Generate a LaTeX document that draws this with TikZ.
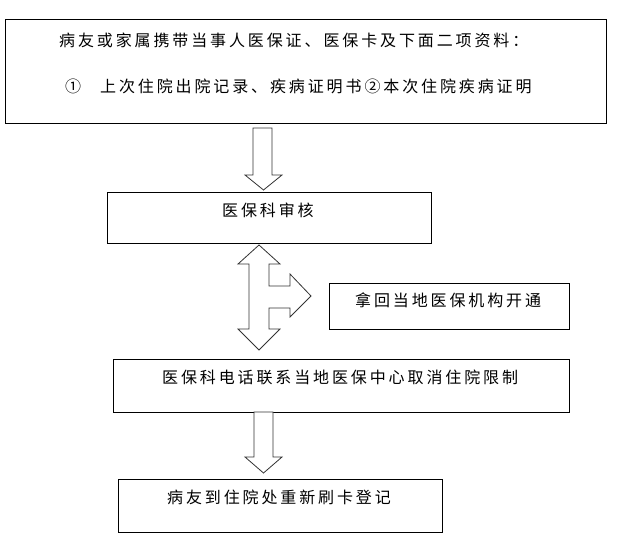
\documentclass[tikz,border=0pt]{standalone}
\usepackage{fontspec}
\newfontfamily\cjk[LetterSpace=18]{Noto Sans CJK SC}
\begin{document}
\begin{tikzpicture}[x=1pt,y=-1pt,
  box/.style={draw=black,line width=0.9pt,inner sep=0pt},
  txt/.style={font=\cjk\fontsize{16pt}{19pt}\selectfont,inner sep=0pt,anchor=west},
  blk/.style={draw=black!80,line width=0.8pt,fill=white,line join=miter}]
\useasboundingbox (0,0) rectangle (617,543);
% boxes
\node[box,minimum width=601pt,minimum height=104pt] (b1) at (305.5,71) {};
\node[box,minimum width=324pt,minimum height=51pt] (b2) at (269,217.5) {};
\node[box,minimum width=240pt,minimum height=46pt] (b3) at (449,306) {};
\node[box,minimum width=456pt,minimum height=53pt] (b4) at (341,385.5) {};
\node[box,minimum width=324pt,minimum height=53pt] (b5) at (280,505.5) {};
% texts
\node[txt] (t1) at (59,40) {病友或家属携带当事人医保证、医保卡及下面二项资料：};
\node[txt] (t2a) at (65,86) {①};
\node[txt] (t2) at (100,86) {上次住院出院记录、疾病证明书②本次住院疾病证明};
\node[txt] (t3) at (222,210) {医保科审核};
\node[txt] (t4) at (355,300) {拿回当地医保机构开通};
\node[txt] (t5) at (162,377) {医保科电话联系当地医保中心取消住院限制};
\node[txt] (t6) at (167,497) {病友到住院处重新刷卡登记};
% arrow b1 -> b2
\draw[blk] (253,128) -- (253,175) -- (245,175) -- (263.5,190) -- (282,175) -- (272,175) -- (272,128) -- cycle;
% three-way arrow b2 <-> b4, -> b3
\draw[blk] (259,245) -- (280,264) -- (269,264) -- (269,286) -- (290,286) -- (290,274)
  -- (311,296) -- (290,317) -- (290,308) -- (269,308) -- (269,329) -- (280,329)
  -- (259,350) -- (238,329) -- (249,329) -- (249,264) -- (238,264) -- cycle;
% arrow b4 -> b5
\draw[blk] (254,412) -- (254,457) -- (245,457) -- (263.5,473) -- (282,457) -- (273,457) -- (273,412) -- cycle;
\end{tikzpicture}
\end{document}
